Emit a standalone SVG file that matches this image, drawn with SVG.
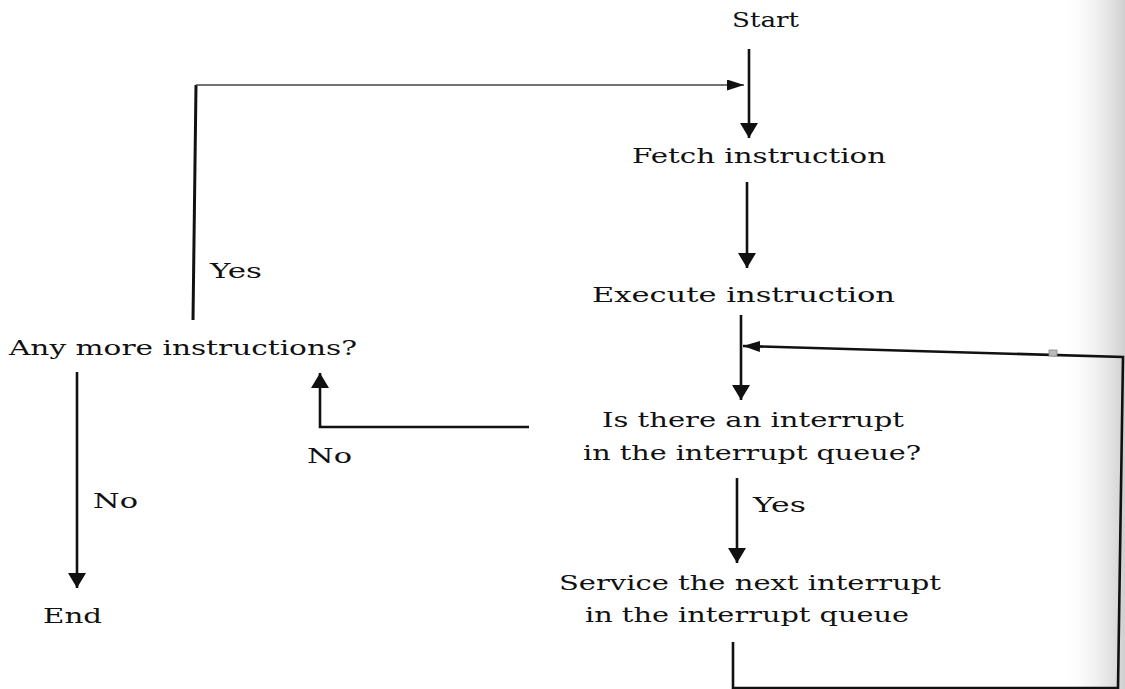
<svg xmlns="http://www.w3.org/2000/svg" width="1125" height="689" viewBox="0 0 1125 689">
  <defs>
    <style>
      .t { font-family: "DejaVu Serif", "Liberation Serif", serif; font-size: 21px; fill: #111; }
      .c { fill: none; stroke: #111; stroke-width: 2.6; }
      .thin { fill: none; stroke: #444; stroke-width: 1.6; }
    </style>
    <marker id="ah" markerUnits="userSpaceOnUse" markerWidth="16" markerHeight="20" refX="15" refY="9" orient="auto">
      <path d="M0,0 L15,9 L0,18 z" fill="#111"/>
    </marker>
    <marker id="ahs" markerUnits="userSpaceOnUse" markerWidth="18" markerHeight="12" refX="17" refY="5.5" orient="auto">
      <path d="M0,0 L17,5.5 L0,11 z" fill="#111"/>
    </marker>
    <linearGradient id="shade" x1="0" y1="0" x2="1" y2="0">
      <stop offset="0" stop-color="#ffffff" stop-opacity="0"/>
      <stop offset="1" stop-color="#cfcfcf"/>
    </linearGradient>
  </defs>

  <rect x="0" y="0" width="1125" height="689" fill="#ffffff"/>
  <rect x="1060" y="0" width="65" height="689" fill="url(#shade)"/>

  <g id="connectors">
    <line class="c" x1="749" y1="49" x2="749" y2="138" marker-end="url(#ah)"/>
    <path class="c" d="M193,320 L196,85" style="stroke-width:3"/>
    <path class="thin" d="M196,85 L744,85" marker-end="url(#ahs)"/>
    <line class="c" x1="747" y1="182" x2="747" y2="268" marker-end="url(#ah)"/>
    <line class="c" x1="741" y1="315" x2="741" y2="400" marker-end="url(#ah)"/>
    <path class="c" d="M733,642 L733,688 L1118,688 L1123,357 L743,346" marker-end="url(#ahs)"/>
    <path class="c" d="M529,427 L320,427 L320,373" marker-end="url(#ah)"/>
    <line class="c" x1="737" y1="478" x2="737" y2="563" marker-end="url(#ah)"/>
    <line class="c" x1="77" y1="372" x2="77" y2="588" marker-end="url(#ah)"/>
    <rect x="1049" y="350" width="8" height="6" fill="#bbb" stroke="#888" stroke-width="0.8"/>
  </g>

  <g id="labels">
    <text class="t" x="210" y="278" textLength="52" lengthAdjust="spacingAndGlyphs">Yes</text>
    <text class="t" x="307" y="463" textLength="45" lengthAdjust="spacingAndGlyphs">No</text>
    <text class="t" x="93" y="508" textLength="45" lengthAdjust="spacingAndGlyphs">No</text>
    <text class="t" x="753" y="512" textLength="53" lengthAdjust="spacingAndGlyphs">Yes</text>
  </g>

  <g id="start">
    <text class="t" x="732" y="27" textLength="67" lengthAdjust="spacingAndGlyphs">Start</text>
  </g>
  <g id="fetch">
    <text class="t" x="632" y="163" textLength="254" lengthAdjust="spacingAndGlyphs">Fetch instruction</text>
  </g>
  <g id="execute">
    <text class="t" x="592" y="302" textLength="303" lengthAdjust="spacingAndGlyphs">Execute instruction</text>
  </g>
  <g id="interrupt-check">
    <text class="t" x="602" y="427" textLength="302" lengthAdjust="spacingAndGlyphs">Is there an interrupt</text>
    <text class="t" x="583" y="460" textLength="338" lengthAdjust="spacingAndGlyphs">in the interrupt queue?</text>
  </g>
  <g id="service">
    <text class="t" x="559" y="590" textLength="382" lengthAdjust="spacingAndGlyphs">Service the next interrupt</text>
    <text class="t" x="585" y="622" textLength="324" lengthAdjust="spacingAndGlyphs">in the interrupt queue</text>
  </g>
  <g id="more-check">
    <text class="t" x="9" y="355" textLength="348" lengthAdjust="spacingAndGlyphs">Any more instructions?</text>
  </g>
  <g id="end">
    <text class="t" x="43" y="623" textLength="59" lengthAdjust="spacingAndGlyphs">End</text>
  </g>
</svg>
